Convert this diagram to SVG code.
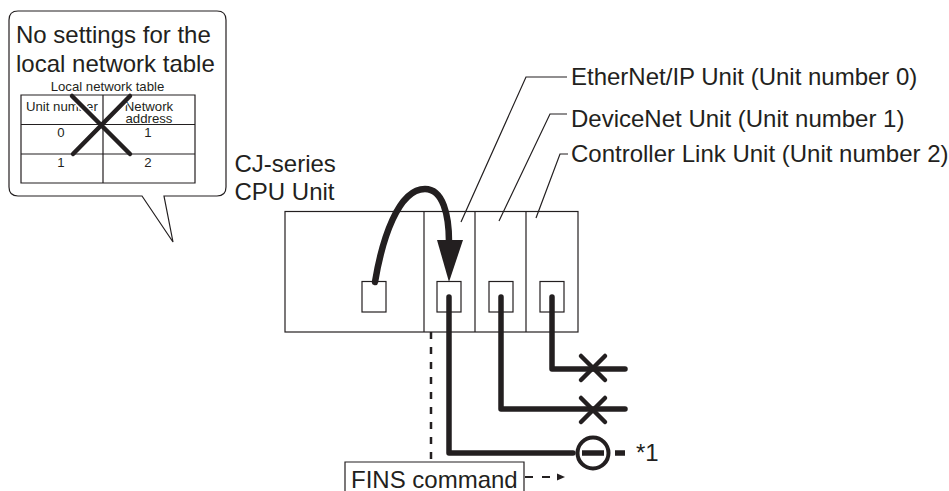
<svg xmlns="http://www.w3.org/2000/svg" width="949" height="491" viewBox="0 0 949 491">
<style>
text{font-family:"Liberation Sans",Arial,sans-serif;fill:#231f20}
.l{font-size:24px}
.s{font-size:13.2px}
.m{text-anchor:middle}
.t{fill:#fff;stroke:#231f20;stroke-width:1.2}
.n{fill:none;stroke:#231f20;stroke-width:1.2}
.w{fill:none;stroke:#231f20;stroke-width:5.5;stroke-linejoin:round;stroke-linecap:round}
.b{fill:none;stroke:#231f20;stroke-width:4.5;stroke-linecap:round}
.h{fill:none;stroke:#fff;stroke-width:8}
</style>
<rect width="949" height="491" fill="#fff"/>
<g id="callout">
<path class="t" d="M18 11H217Q226 11 226 20V187Q226 196 217 196H164L173 242L142 196H18Q9 196 9 187V20Q9 11 18 11Z"/>
<text class="l" x="16" y="43">No settings for the</text>
<text class="l" x="16" y="72">local network table</text>
<text class="s m" x="107.500" y="91">Local network table</text>
<path class="n" d="M21 95H195V183H21ZM21 124.500H195M21 154H195M103 95V183"/>
<text class="s" x="26" y="111">Unit number</text>
<text class="s m" x="149" y="111">Network</text>
<text class="s m" x="149" y="123">address</text>
<text class="s m" x="61" y="137">0</text>
<text class="s m" x="148" y="137">1</text>
<text class="s m" x="61" y="167">1</text>
<text class="s m" x="148" y="167">2</text>
<path class="h" d="M78 102L95 119M125 101L111 115"/>
<path class="b" d="M72 96L130 154M130 96L73 154"/>
</g>
<g id="cpu-label">
<text class="l" x="234.500" y="172">CJ-series</text>
<text class="l" x="234.500" y="200">CPU Unit</text>
</g>
<g id="rack">
<rect class="n" x="285" y="211.500" width="293" height="120.500"/>
<path class="n" d="M424 211.500V332M475 211.500V332M526 211.500V332"/>
<rect class="n" x="362" y="281.500" width="24" height="30.500"/>
<rect class="n" x="437" y="281.500" width="24" height="30.500"/>
<rect class="n" x="489" y="281.500" width="24" height="30.500"/>
<rect class="n" x="540" y="281.500" width="24" height="30.500"/>
</g>
<g id="labels">
<text class="l" x="571" y="85">EtherNet/IP Unit (Unit number 0)</text>
<text class="l" x="571" y="127">DeviceNet Unit (Unit number 1)</text>
<text class="l" x="571" y="162">Controller Link Unit (Unit number 2)</text>
<text class="l" x="636" y="461">*1</text>
</g>
<g id="fins">
<path fill="#fff" stroke="#231f20" stroke-width="1.200" d="M345 491V462H524V491"/>
<text class="l" x="351" y="488">FINS command</text>
</g>
<g id="connectors">
<path class="n" d="M461 222L526 77H567M499 221L550 114H567M536 218L560 154H568"/>
<path d="M375 282C382 240 398 189 425 189C443 189 449 215 449 242" fill="none" stroke="#231f20" stroke-width="6.500" stroke-linecap="round"/>
<path d="M437 240H463L449 282Z" fill="#231f20"/>
<path class="w" d="M449 297V453H573M501 297V409H625M552 297V369H625"/>
<path d="M615 453H625M582 453H604" stroke="#231f20" stroke-width="5.500" fill="none"/>
<circle cx="593" cy="453" r="15.500" fill="none" stroke="#231f20" stroke-width="4"/>
<path class="b" d="M581 356L605 380M605 356L581 380M581 398L605 422M605 398L581 422"/>
<path d="M431 332V462" fill="none" stroke="#231f20" stroke-width="2.500" stroke-dasharray="7 8"/>
<path d="M525 477H551" fill="none" stroke="#231f20" stroke-width="2" stroke-dasharray="8 9"/>
<path d="M557 473.500L565 477L557 480.500Z" fill="#231f20"/>
</g>
</svg>
